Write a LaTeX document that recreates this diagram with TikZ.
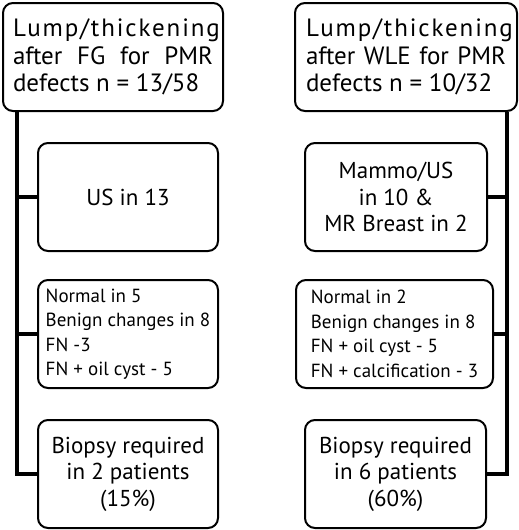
\documentclass[tikz,border=0pt]{standalone}
\usepackage{fontspec}
\setmainfont{PT Sans}
\usetikzlibrary{calc}

\begin{document}
\begin{tikzpicture}[x=1pt,y=-1pt]
  \tikzset{box/.style = {draw, rounded corners=10pt, line width=2pt, minimum height=108pt, inner sep=4pt, align=center, font=\fontsize{23}{26.5}\selectfont}}
  \tikzset{head/.style = {box, text width=200pt, align=justify, font=\fontsize{25}{27.5}\selectfont}}
  \tikzset{list/.style = {box, align=left, font=\fontsize{19}{24.5}\selectfont}}
  \tikzset{link/.style = {-, line width=3.5pt}}

  \useasboundingbox (0,0) rectangle (519,530);

  % left column
  \node[head, minimum width=220pt] (fg) at (113,57)
    {{\addfontfeature{LetterSpace=7.5}Lump/thickening}\linebreak after FG for PMR\linebreak defects n = 13/58};
  \node[box, minimum width=180pt] (us) at (128,197) {US in 13};
  \node[list, minimum width=180pt] (usres) at (128,334)
    {Normal in 5\\Benign changes in 8\\FN -3\\FN + oil cyst - 5};
  \node[box, minimum width=180pt] (fgbio) at (128,474)
    {Biopsy required\\in 2 patients\\(15\%)};

  % right column
  \node[head, minimum width=222pt] (wle) at (406,57)
    {{\addfontfeature{LetterSpace=7.5}Lump/thickening}\linebreak after WLE for PMR\linebreak defects n = 10/32};
  \node[box, minimum width=182pt] (mammo) at (396,197) {Mammo/US\\in 10 \&\\MR Breast in 2};
  \node[list, minimum width=197pt] (mammores) at (394.5,334)
    {Normal in 2\\Benign changes in 8\\FN + oil cyst - 5\\FN + calcification - 3};
  \node[box, minimum width=181pt] (wlebio) at (395.5,474)
    {Biopsy required\\in 6 patients\\(60\%)};

  \coordinate (trunkL) at (17,477);
  \coordinate (trunkR) at (507,477);

  \draw[link] (fg.south -| trunkL) |- (fgbio.west);
  \draw[link] (us.west) -- (us.west -| trunkL);
  \draw[link] (usres.west) -- (usres.west -| trunkL);

  \draw[link] (wle.south -| trunkR) |- (wlebio.east);
  \draw[link] (mammo.east) -- (mammo.east -| trunkR);
  \draw[link] (mammores.east) -- (mammores.east -| trunkR);
\end{tikzpicture}
\end{document}
